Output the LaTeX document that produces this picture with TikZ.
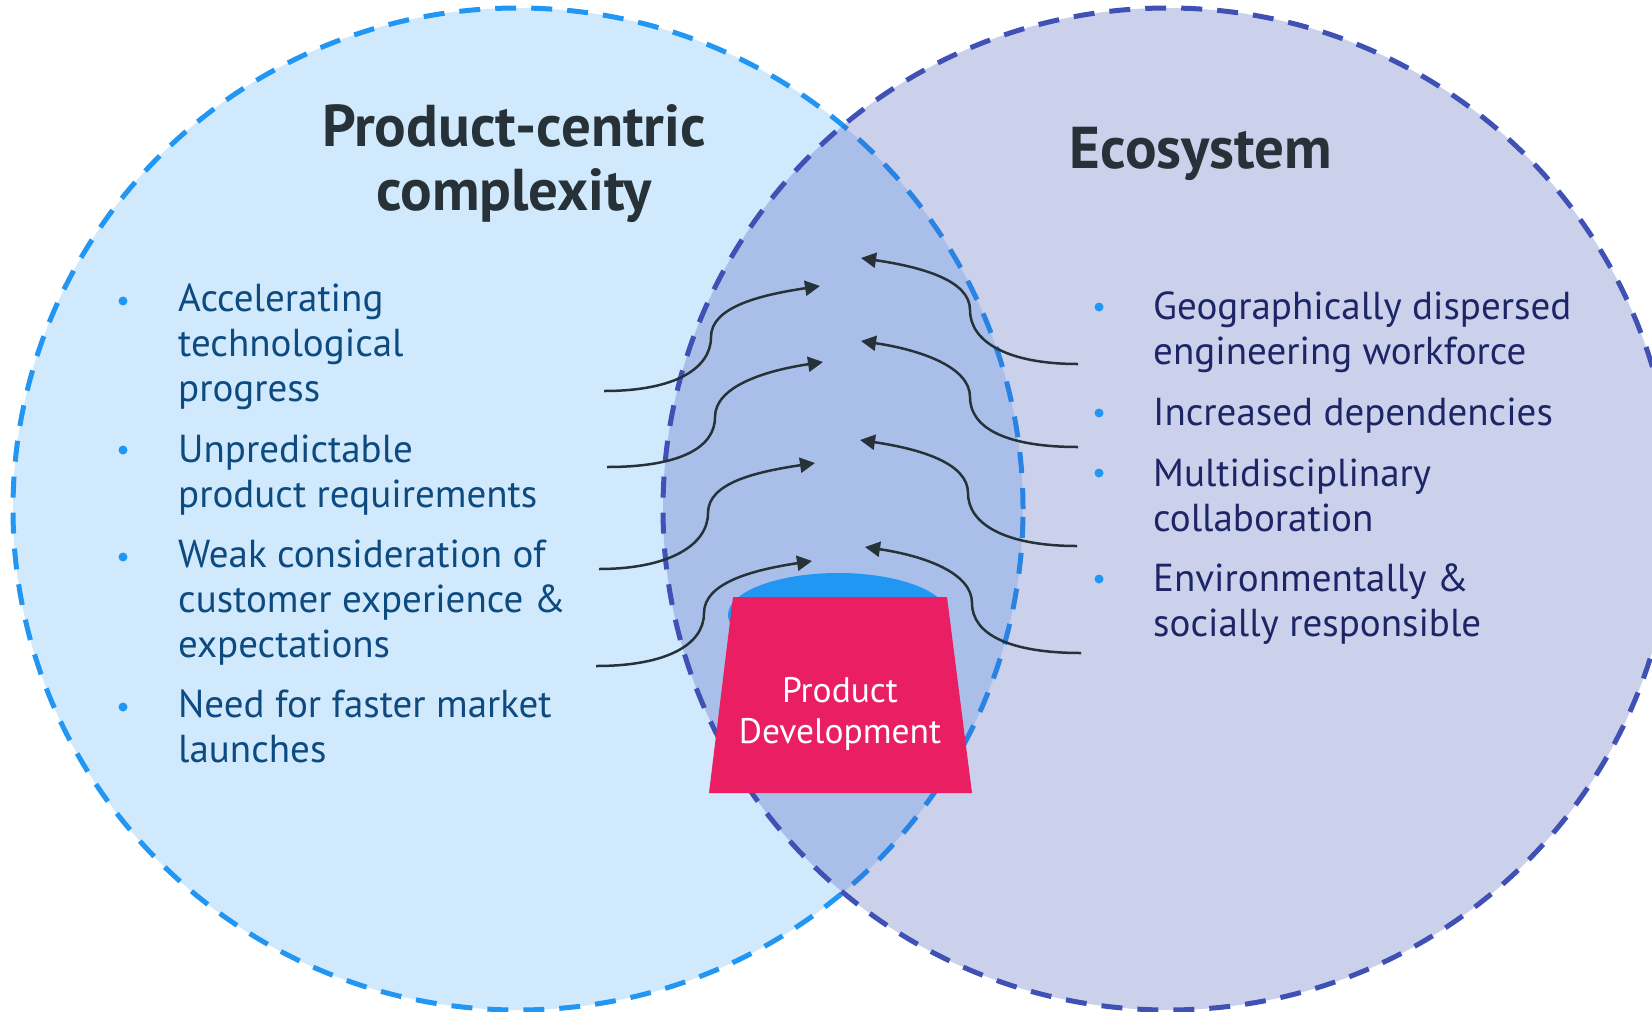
\documentclass[tikz,border=0pt]{standalone}
\usepackage{fontspec}
\setmainfont{PT Sans}
\usetikzlibrary{arrows.meta,shapes.geometric}
\definecolor{leftblue}{HTML}{2196F3}
\definecolor{indigo}{HTML}{3F51B5}
\definecolor{pinkpd}{HTML}{E91E63}
\definecolor{slate}{HTML}{263238}
\definecolor{lefttext}{HTML}{0D4A80}
\definecolor{righttext}{HTML}{1C2566}
\begin{document}
\begin{tikzpicture}[x=1pt,y=-1pt,
  venn/.style={ellipse, inner sep=0pt, minimum width=1010pt, minimum height=1002pt,
               line width=5pt, dash pattern=on 21pt off 15pt},
  titletext/.style={font=\fontsize{59}{64}\selectfont\bfseries, text=slate, align=center, inner sep=0pt},
  item/.style={font=\fontsize{39}{45}\selectfont, anchor=base west, align=left, inner sep=0pt},
  dot/.style={circle, fill=leftblue, inner sep=0pt, minimum size=9pt},
  flow/.style={draw=slate, line width=2.5pt, -{Triangle[length=15pt,width=15pt]}}
]
\useasboundingbox (0,0) rectangle (1652,1012);

% Venn circles
\node[venn, draw=leftblue, fill=leftblue, fill opacity=0.21, draw opacity=1] (prodc) at (518,509) {};
\node[venn, draw=indigo, fill=indigo, fill opacity=0.27, draw opacity=1] (eco) at (1168,509) {};

% titles (base anchor = baseline of the last line)
\node[titletext, anchor=base] (t1) at (514,210) {Product-centric\\complexity};
\node[titletext, anchor=base] (t2) at (1201,168) {Ecosystem};

% left items
\node[dot] (lb1) at (123,301) {};
\node[dot] (lb2) at (123,450) {};
\node[dot] (lb3) at (123,557) {};
\node[dot] (lb4) at (123,707) {};
\node[item, text=lefttext] (li1) at (178,401) {Accelerating\\technological\\progress};
\node[item, text=lefttext] (li2) at (178,507) {Unpredictable\\product requirements};
\node[item, text=lefttext] (li3) at (178,657) {Weak consideration of\\customer experience \&\\expectations};
\node[item, text=lefttext] (li4) at (178,762) {Need for faster market\\launches};

% right items
\node[dot] (rb1) at (1099,307) {};
\node[dot] (rb2) at (1099,413) {};
\node[dot] (rb3) at (1099,473) {};
\node[dot] (rb4) at (1099,579) {};
\node[item, text=righttext] (ri1) at (1153,364) {Geographically dispersed\\engineering workforce};
\node[item, text=righttext] (ri2) at (1153,425) {Increased dependencies};
\node[item, text=righttext] (ri3) at (1153,531) {Multidisciplinary\\collaboration};
\node[item, text=righttext] (ri4) at (1153,636) {Environmentally \&\\socially responsible};

% product development
\node[ellipse, fill=leftblue, inner sep=0pt, minimum width=220pt, minimum height=84pt] (pdcap) at (838,615) {};
\coordinate (pdbl) at (709,793);
\coordinate (pdtl) at (733,597);
\coordinate (pdtr) at (947,597);
\coordinate (pdbr) at (972,793);
\fill[pinkpd] (pdbl) -- (pdtl) -- (pdtr) -- (pdbr) -- cycle;
\node[font=\fontsize{35.5}{41}\selectfont, text=white, align=center, anchor=base, inner sep=0pt]
      (pdlabel) at (840,743) {Product\\Development};

% connectors
\coordinate (l1s) at (604,391); \coordinate (l1t) at (820,286);
\coordinate (l2s) at (607,467); \coordinate (l2t) at (823,362);
\coordinate (l3s) at (599,569); \coordinate (l3t) at (815,463);
\coordinate (l4s) at (596,666); \coordinate (l4t) at (812,561);
\coordinate (r1s) at (1078,364); \coordinate (r1t) at (861,258);
\coordinate (r2s) at (1078,447); \coordinate (r2t) at (861,341);
\coordinate (r3s) at (1077,546); \coordinate (r3t) at (860,440);
\coordinate (r4s) at (1081,653); \coordinate (r4t) at (865,547);

\draw[flow] (l1s) .. controls +(70,0) and +(0,32) .. (711,337) .. controls +(0,-30) and +(-60,9) .. (l1t);
\draw[flow] (l2s) .. controls +(70,0) and +(0,32) .. (715,417) .. controls +(0,-30) and +(-60,9) .. (l2t);
\draw[flow] (l3s) .. controls +(70,0) and +(0,32) .. (708,513) .. controls +(0,-30) and +(-60,9) .. (l3t);
\draw[flow] (l4s) .. controls +(70,0) and +(0,32) .. (704,613) .. controls +(0,-30) and +(-60,9) .. (l4t);

\draw[flow] (r1s) .. controls +(-70,0) and +(0,32) .. (970,310) .. controls +(0,-30) and +(60,9) .. (r1t);
\draw[flow] (r2s) .. controls +(-70,0) and +(0,32) .. (970,397) .. controls +(0,-30) and +(60,9) .. (r2t);
\draw[flow] (r3s) .. controls +(-70,0) and +(0,32) .. (968,493) .. controls +(0,-30) and +(60,9) .. (r3t);
\draw[flow] (r4s) .. controls +(-70,0) and +(0,32) .. (972,603) .. controls +(0,-30) and +(60,9) .. (r4t);
\end{tikzpicture}
\end{document}
